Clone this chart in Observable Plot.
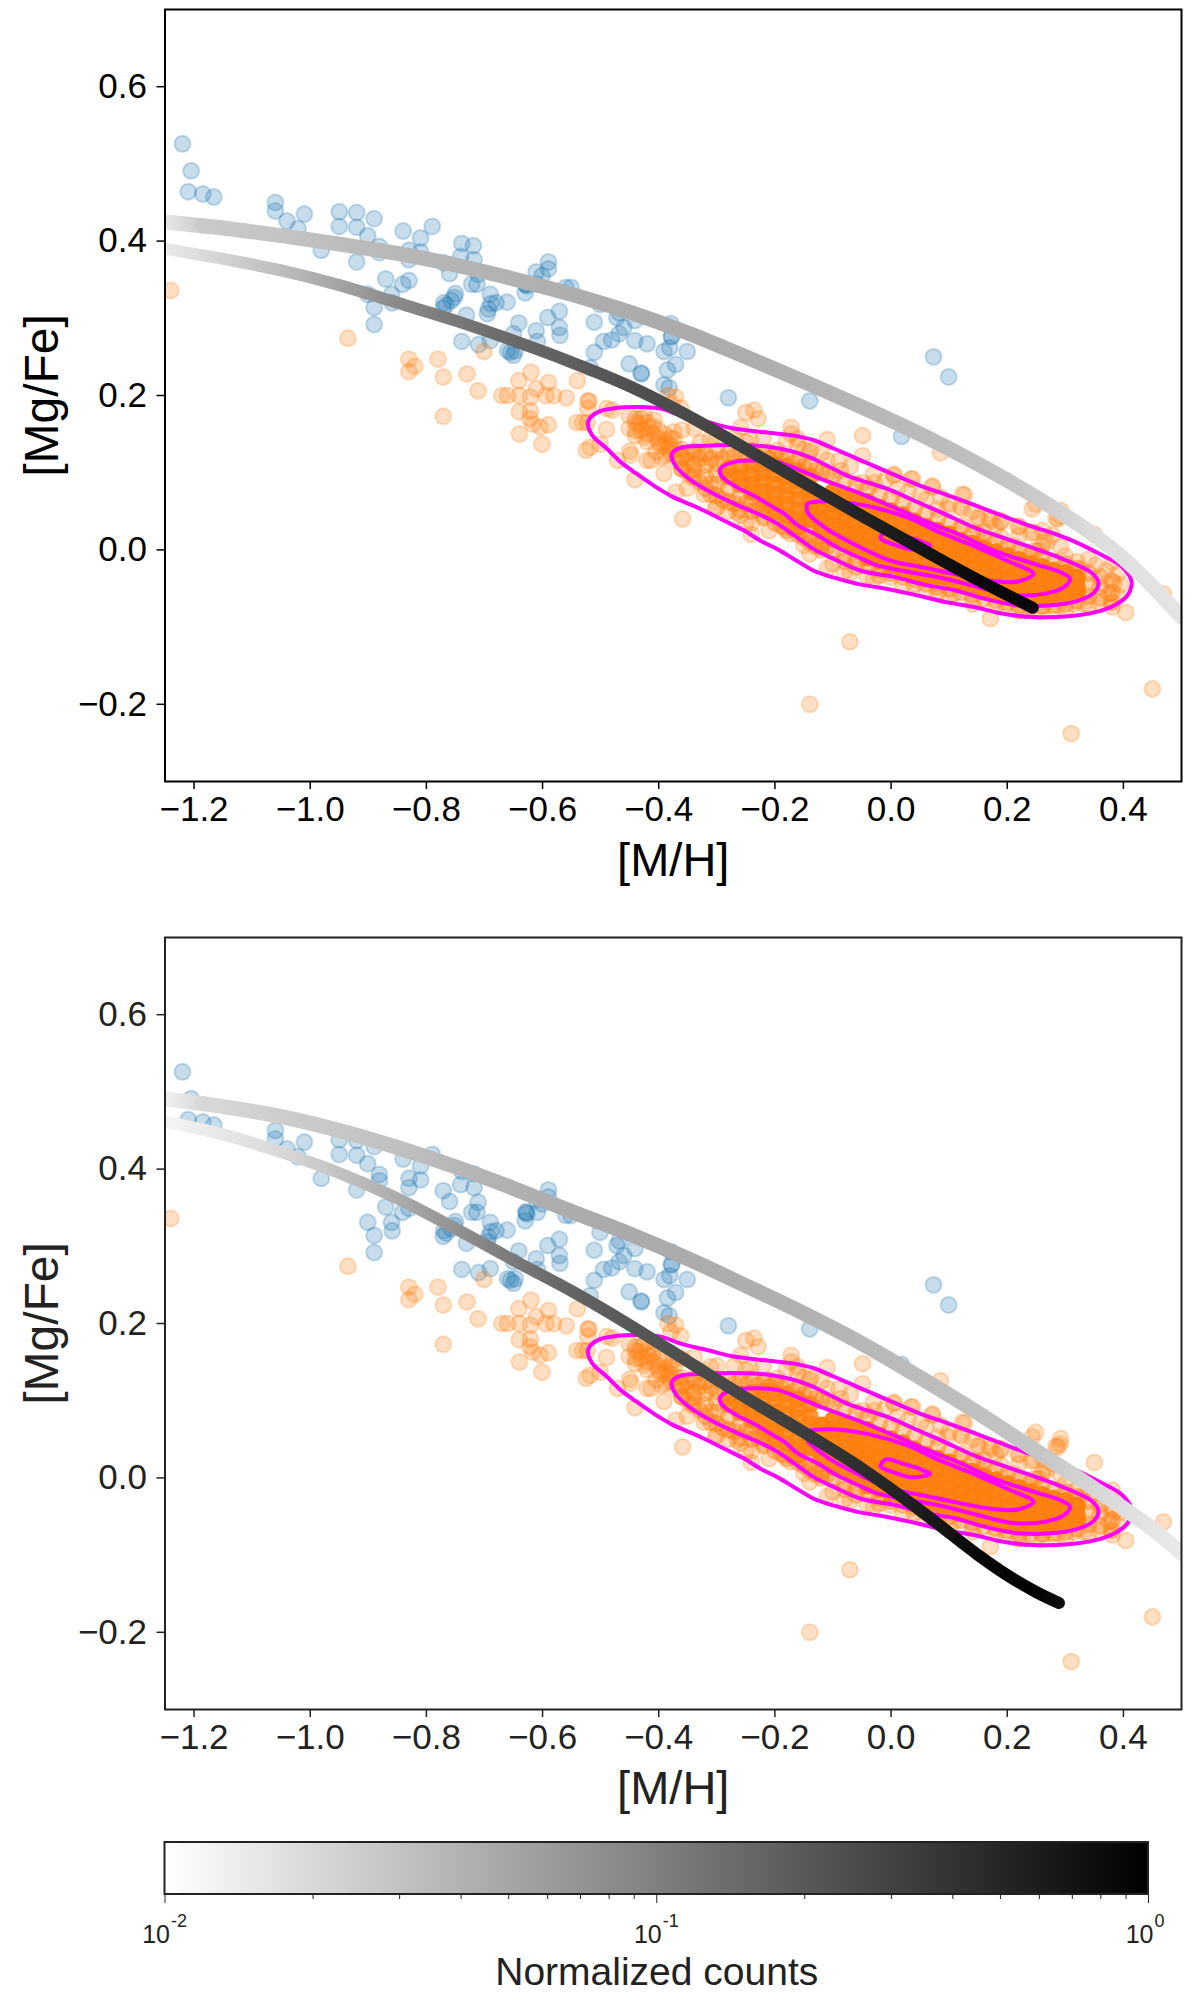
<!DOCTYPE html>
<html>
<head>
<meta charset="utf-8">
<script src="https://cdn.jsdelivr.net/npm/d3@7"></script>
<script src="https://cdn.jsdelivr.net/npm/@observablehq/plot@0.6"></script>
<style>
html,body{margin:0;padding:0;background:#fff;}
svg{display:block;}
</style>
</head>
<body>
<script>
const FONT = '"Liberation Sans", Arial, sans-serif';
const xTicks = [-1.2,-1.0,-0.8,-0.6,-0.4,-0.2,0.0,0.2,0.4];
const yTicks = [-0.2,0.0,0.2,0.4,0.6];
const cbMajor = [0.01,0.1,1];
const cbMinor = [0.02,0.03,0.04,0.05,0.06,0.07,0.08,0.09,0.2,0.3,0.4,0.5,0.6,0.7,0.8,0.9];

const blue = [
[-1.220,.526],[-1.205,.491],[-1.210,.464],[-1.185,.461],[-1.166,.457],
[-1.060,.450],[-1.060,.439],[-1.040,.426],[-1.010,.435],[-1.021,.416],[-.981,.388],
[-.950,.438],[-.950,.419],[-.920,.437],[-.920,.418],[-.890,.429],[-.901,.407],[-.881,.393],[-.881,.385],[-.920,.373],[-.870,.351],[-.901,.331],[-.890,.314],[-.890,.292],[-.860,.331],[-.859,.320],
[-.840,.413],[-.810,.404],[-.790,.419],[-.830,.388],[-.830,.376],[-.810,.386],[-.830,.349],[-.841,.344],[-.771,.372],[-.760,.358],
[-.739,.397],[-.719,.394],[-.741,.380],[-.718,.376],[-.711,.357],[-.722,.344],[-.713,.344],[-.750,.332],[-.752,.327],[-.757,.323],[-.770,.320],[-.766,.317],[-.771,.313],[-.731,.304],
[-.690,.331],[-.689,.319],[-.680,.320],[-.695,.306],[-.693,.312],[-.661,.321],[-.630,.333],[-.629,.344],[-.628,.344],[-.627,.342],[-.609,.344],[-.739,.270],[-.710,.266],[-.690,.271],[-.641,.294],[-.650,.280],[-.611,.284],[-.609,.270],[-.571,.309],[-.591,.301],[-.571,.288],[-.570,.278],[-.660,.258],[-.655,.256],[-.650,.252],[-.647,.258],
[-.590,.373],[-.590,.364],[-.611,.360],[-.601,.355],[-.560,.340],[-.551,.340],
[-.511,.295],[-.511,.256],[-.495,.270],[-.501,.318],[-.472,.301],[-.468,.307],[-.441,.297],[-.460,.288],[-.468,.280],[-.481,.272],[-.441,.271],[-.420,.267],[-.451,.241],[-.430,.229],[-.430,.228],[-.518,.236],[-.391,.257],[-.381,.262],[-.378,.277],[-.378,.276],[-.379,.293],[-.351,.257],[-.371,.240],[-.385,.233],[-.391,.214],[-.382,.210],[-.280,.197],[-.140,.193],[.073,.250],[.099,.224],[.018,.147]
];

const orangeSparse = [
[-1.240,.336],[-.935,.274],[-.830,.247],[-.820,.238],[-.830,.231],[-.780,.247],[-.771,.224],[-.730,.228],[-.701,.257],[-.620,.230],[-.641,.219],[-.590,.217],[-.540,.219],[-.711,.206],
[-.771,.173],[-.670,.200],[-.660,.200],[-.640,.200],[-.621,.198],[-.611,.209],[-.594,.200],[-.581,.200],[-.559,.197],[-.640,.179],[-.621,.180],[-.622,.170],[-.617,.163],[-.604,.159],[-.590,.162],[-.640,.150],[-.601,.137],[-.541,.165],[-.531,.165],[-.522,.193],[-.522,.183],[-.525,.129],[-.518,.133],
[-.520,.193],[-.489,.183],[-.480,.181],[-.523,.165],[-.490,.156],[-.501,.137],[-.471,.116],[-.450,.128],[-.448,.123],[-.420,.116],[-.413,.116],[-.391,.099],[-.441,.091],[-.370,.075],[-.351,.080],[-.322,.072],[-.302,.054],[-.359,.040],[-.260,.045],[-.250,.034],[-.241,.020],[-.220,.045],
[-.250,.178],[-.236,.181],[-.229,.170],[-.259,.159],[-.339,.157],[-.360,.155],[-.374,.153],[-.384,.200],[-.371,.198],[-.362,.184],[-.379,.189],[-.172,.159],[-.172,.150],[-.161,.144],[-.110,.143],[-.049,.148],[-.049,.122],[-.141,.127],[-.110,.116],[-.087,.103],
[-.451,.174],[-.425,.174],[-.408,.168],[-.451,.157],[-.434,.163],[-.417,.159],[-.440,.148],[-.425,.146],[-.402,.146],[-.388,.142],[-.374,.144],[-.397,.135],[-.382,.131],[-.388,.122],[-.405,.127],
[-.44,.17],[-.43,.155],[-.42,.165],[-.41,.15],[-.44,.155],[-.42,.14],[-.40,.155],[-.395,.12],[-.38,.125],[-.37,.13],[-.39,.135],[-.38,.145],[-.36,.12],[-.35,.115],[-.34,.105],[-.36,.105],[-.345,.095],
[.005,.098],[.034,.092],[.071,.083],[.011,.079],[-.029,.087],[-.049,.087],[.051,.072],[.086,.068],[.123,.072],[.120,.056],[.080,.053],[.149,.042],[.169,.041],[.189,.038],[.218,.031],[.241,.022],[.249,.059],[.287,.040],[.291,.044],[.284,.041],[.350,.020],[.381,-.016],[.469,-.057],[.212,.005],[.149,.022],[.123,.031],[.097,.053],[.252,-.001],[.327,-.025],[.269,.010],[.085,.126],
[.171,-.089],[.141,-.070],[.108,-.057],[.080,-.044],[.197,-.072],[.226,-.078],[.261,-.072],[.287,-.072],[.315,-.070],[.332,-.070],[.381,-.074],[.404,-.081],[.370,-.027],[.384,-.044],[.375,-.057],[.352,-.020],[.390,-.031],[-.041,-.035],[-.001,-.035],
[.005,.096],[.037,.092],[.071,.081],[.126,.071],[.123,.053],[.152,.040],[.172,.038],[.189,.036],[.221,.030],[.246,.023],[.261,.025],[.278,.019],[.292,.004],[.264,.012],[.189,.017],[.160,.023],[.246,-.001],[.292,.051],[.243,.053],
[-.150,.006],[-.184,.029],[-.173,.021],[-.121,.004],[-.110,-.024],[-.081,-.029],[-.265,.049],[-.311,.085],[-.328,.139],[-.311,.144],[-.242,.142],[-.213,.127],[-.196,.129],[-.161,.135],[-.138,.129],
[-.071,-.119],[-.140,-.200],[.310,-.238],[.450,-.180]
];

const orangeBand = [
[-.44,.165],[-.43,.17],[-.42,.15],[-.41,.16],[-.40,.14],[-.39,.15],[-.38,.135],[-.37,.115],[-.36,.13],[-.35,.10],[-.33,.125],
[-.30,.145],[-.27,.145],[-.25,.14],[-.22,.145],[-.18,.14],[-.15,.13],[-.12,.125],[-.09,.115],[-.07,.108],[-.03,.098],[-.01,.09],[.03,.075],[.06,.065],[.10,.06],[.14,.05],[.18,.03],[.22,.018],[.26,.005],[.30,-.008],[.32,-.015],[.34,-.012],
[-.30,.055],[-.28,.05],[-.24,.035],[-.21,.025],[-.14,-.005],[-.10,-.018],[-.07,-.03],[-.03,-.038],[.02,-.045],[.06,-.052],[.10,-.06],[.14,-.065],[.18,-.072],[.22,-.079],[.26,-.08],[.30,-.078],[.34,-.072],[.36,-.07],[.39,-.06],[.395,-.045]
];

const orangeMid = [
[-.36,.120],[-.36,.105],[-.34,.128],[-.34,.110],[-.34,.095],[-.32,.125],[-.32,.110],[-.32,.095],[-.32,.080],[-.30,.128],[-.30,.112],[-.30,.098],[-.30,.085],[-.30,.070],[-.28,.125],[-.28,.080],[-.28,.062],[-.26,.125],[-.26,.070],[-.26,.052],[-.24,.128],[-.24,.062],[-.24,.050],[-.22,.125],[-.22,.055],[-.22,.042],[-.20,.122],[-.20,.045],[-.20,.035],[-.18,.120],[-.18,.036],[-.18,.025],[-.16,.115],[-.16,.028],[-.16,.020],[-.14,.110],[-.14,.018],[-.14,.010],[-.12,.100],[-.12,.010],[-.12,.000],[-.10,.095],[-.10,-.002],[-.08,.090],[-.08,-.006],[-.08,-.015],[-.06,.085],[-.06,-.015],[-.06,-.022],[-.04,.080],[-.04,-.020],[-.02,.072],[-.02,-.025],[-.02,-.033],[0,.067],[0,-.030],[.02,.060],[.02,-.035],[.04,.053],[.04,-.038],[.04,-.045],[.06,.047],[.06,-.044],[.08,.040],[.08,-.048],[.08,-.055],[.10,.033],[.10,-.050],[.12,.028],[.12,-.055],[.14,.021],[.14,-.058],[.16,.014],[.16,-.063],[.18,.010],[.18,-.065],[.20,.004],[.20,-.068],[.22,-.002],[.22,-.072],[.24,-.006],[.24,-.073],[.26,-.010],[.26,-.073],[.28,-.015],[.28,-.072],[.30,-.018],[.30,-.070],[.32,-.024],[.32,-.066],[.34,-.030],[.34,-.045],[.34,-.060],[.36,-.035],[.36,-.048],[.36,-.062],[.38,-.040],[.38,-.055],[.38,-.068],
[-.35,.125],[-.33,.118],[-.31,.118],[-.33,.088],[-.31,.072],[-.29,.118],[-.29,.065],[-.27,.122],[-.27,.060],[-.25,.120],[-.23,.120],[-.21,.118],[-.19,.118],[-.17,.112],[-.15,.108],[-.13,.102],[-.11,.098],[-.25,.060],[-.23,.052],[-.21,.048],[-.19,.032],[-.17,.028],[-.15,.016],[-.13,.005],[-.11,.004]
];

const orangeDense = [
[-.28,.105],[-.28,.095],[-.26,.108],[-.26,.094],[-.26,.085],[-.24,.110],[-.24,.098],[-.24,.085],[-.24,.075],[-.22,.112],[-.22,.100],[-.22,.088],[-.22,.075],[-.22,.065],[-.20,.110],[-.20,.098],[-.20,.085],[-.20,.072],[-.20,.060],[-.20,.050],[-.18,.108],[-.18,.095],[-.18,.083],[-.18,.070],[-.18,.058],[-.18,.045],[-.16,.102],[-.16,.090],[-.16,.078],[-.16,.065],[-.16,.052],[-.16,.040],[-.16,.030],[-.14,.095],[-.14,.080],[-.14,.070],[-.14,.060]
];

const orangeCore = [
[-.14,.052],[-.14,.040],[-.12,.068],[-.12,.055],[-.12,.040],[-.12,.028],[-.10,.075],[-.10,.060],[-.10,.045],[-.10,.030],[-.10,.015],[-.08,.070],[-.08,.055],[-.08,.040],[-.08,.025],[-.08,.010],[-.06,.065],[-.06,.050],[-.06,.035],[-.06,.020],[-.06,.005],[-.04,.062],[-.04,.047],[-.04,.032],[-.04,.017],[-.04,.002],[-.04,-.010],[-.02,.055],[-.02,.040],[-.02,.025],[-.02,.010],[-.02,-.005],[-.02,-.014],[0,.050],[0,.035],[0,.020],[0,.005],[0,-.010],[0,-.020],[.02,.045],[.02,.030],[.02,.015],[.02,0],[.02,-.015],[.02,-.026],[.04,.037],[.04,.022],[.04,.007],[.04,-.008],[.04,-.023],[.04,-.030],[.06,.030],[.06,.015],[.06,0],[.06,-.015],[.06,-.030],[.06,-.037],[.08,.025],[.08,.010],[.08,-.005],[.08,-.020],[.08,-.034],[.10,.020],[.10,.005],[.10,-.010],[.10,-.025],[.10,-.038],[.12,.012],[.12,-.003],[.12,-.018],[.12,-.033],[.12,-.043],[.14,.008],[.14,-.007],[.14,-.022],[.14,-.037],[.14,-.048],[.16,.002],[.16,-.013],[.16,-.028],[.16,-.043],[.16,-.053],[.18,-.003],[.18,-.018],[.18,-.033],[.18,-.048],[.18,-.057],[.20,-.008],[.20,-.023],[.20,-.038],[.20,-.053],[.20,-.060],[.22,-.013],[.22,-.028],[.22,-.043],[.22,-.056],[.22,-.064],[.24,-.018],[.24,-.033],[.24,-.048],[.24,-.060],[.26,-.022],[.26,-.037],[.26,-.052],[.26,-.063],[.28,-.027],[.28,-.040],[.28,-.054],[.28,-.062],[.30,-.030],[.30,-.044],[.30,-.056],[.32,-.036],[.32,-.048],[.32,-.056]
];

const contourOuter = [
[-.522,.165],[-.517,.172],[-.500,.180],[-.471,.184],[-.437,.185],[-.397,.183],[-.362,.174],[-.313,.165],[-.276,.158],[-.213,.152],[-.167,.148],[-.133,.142],[-.098,.131],[-.052,.116],[-.012,.103],[.051,.083],[.097,.071],[.137,.060],[.189,.045],[.235,.032],[.281,.021],[.315,.011],[.361,-.006],[.396,-.021],[.413,-.038],[.414,-.046],[.407,-.059],[.384,-.072],[.350,-.081],[.304,-.086],[.246,-.087],[.195,-.083],[.143,-.074],[.097,-.068],[.034,-.057],[-.018,-.049],[-.052,-.045],[-.098,-.036],[-.133,-.027],[-.167,-.012],[-.196,.001],[-.225,.012],[-.253,.025],[-.288,.038],[-.328,.053],[-.374,.068],[-.408,.083],[-.437,.098],[-.466,.114],[-.489,.131],[-.514,.148]
];
const contourSecond = [
[-.378,.122],[-.374,.128],[-.359,.133],[-.322,.135],[-.276,.136],[-.230,.135],[-.184,.130],[-.144,.121],[-.110,.109],[-.075,.096],[-.052,.090],[-.006,.079],[.045,.062],[.091,.047],[.143,.029],[.200,.014],[.258,-.001],[.315,-.018],[.344,-.029],[.357,-.042],[.350,-.055],[.321,-.066],[.269,-.072],[.212,-.071],[.160,-.063],[.108,-.052],[.063,-.046],[.005,-.035],[-.052,-.027],[-.098,-.012],[-.133,.001],[-.167,.019],[-.196,.034],[-.230,.047],[-.270,.060],[-.316,.077],[-.351,.094],[-.371,.109]
];
const contourThird = [
[-.295,.103],[-.290,.108],[-.270,.114],[-.236,.116],[-.196,.114],[-.156,.103],[-.121,.092],[-.081,.081],[-.052,.073],[.005,.055],[.063,.036],[.120,.019],[.177,-.001],[.246,-.018],[.292,-.029],[.308,-.037],[.298,-.048],[.263,-.057],[.206,-.058],[.149,-.048],[.091,-.037],[.034,-.029],[-.024,-.020],[-.052,-.011],[-.092,.003],[-.127,.019],[-.161,.032],[-.184,.047],[-.207,.057],[-.236,.070],[-.265,.081],[-.290,.094]
];
const contourFourth = [
[-.144,.060],[-.133,.062],[-.104,.063],[-.041,.057],[.028,.042],[.086,.022],[.143,.005],[.200,-.014],[.245,-.031],[.218,-.041],[.172,-.040],[.114,-.032],[.057,-.023],[-.001,-.014],[-.052,.003],[-.081,.014],[-.110,.027],[-.133,.040],[-.144,.049]
];
const contourFifth = [
[-.009,.024],[-.018,.015],[.005,.007],[.034,.001],[.067,.005],[.048,.012],[.022,.018]
];

// [M/H], [Mg/Fe], normalized counts
const topUpperCurve = [
[-1.25,.425,.0151],[-1.184,.4195,.0265],[-1.15,.417,.027],[-1.05,.407,.029],[-.95,.396,.033],[-.85,.384,.036],[-.75,.369,.039],[-.65,.351,.0405],[-.55,.331,.043],[-.45,.308,.0445],[-.35,.281,.0457],[-.25,.250,.044],[-.15,.218,.041],[-.05,.185,.037],[.05,.150,.034],[.15,.111,.032],[.25,.068,.026],[.35,.019,.0185],[.40,-.011,.0175],[.45,-.047,.0165],[.50,-.087,.016]
];
const topLowerCurve = [
[-1.25,.390,.0146],[-1.15,.377,.0225],[-1.05,.362,.033],[-.95,.343,.053],[-.85,.320,.083],[-.75,.297,.112],[-.65,.271,.15],[-.55,.243,.18],[-.45,.212,.236],[-.35,.174,.265],[-.25,.131,.335],[-.15,.087,.41],[-.05,.044,.54],[.05,.002,.67],[.15,-.039,.86],[.244,-.075,.85]
];
const bottomUpperCurve = [
[-1.25,.491,.0131],[-1.186,.485,.0201],[-1.15,.481,.021],[-1.05,.468,.0245],[-.95,.450,.0275],[-.85,.428,.031],[-.75,.403,.037],[-.65,.375,.042],[-.55,.345,.0445],[-.45,.316,.0464],[-.35,.284,.0445],[-.25,.249,.0435],[-.15,.213,.041],[-.05,.174,.037],[.05,.130,.0335],[.15,.084,.031],[.25,.035,.0285],[.35,-.014,.021],[.45,-.066,.016],[.50,-.098,.0146]
];
const bottomLowerCurve = [
[-1.25,.461,.0119],[-1.15,.445,.0155],[-1.05,.422,.020],[-.95,.395,.030],[-.85,.362,.045],[-.75,.323,.072],[-.65,.282,.113],[-.55,.242,.165],[-.45,.198,.205],[-.35,.151,.25],[-.25,.104,.29],[-.15,.059,.34],[-.05,.012,.44],[.05,-.042,.60],[.15,-.100,.85],[.20,-.126,.95],[.25,-.148,.95],[.289,-.162,.75]
];

const gray = d3.scaleLog().domain([0.01,1]).range(["white","black"]);
const px = d => d[0], py = d => d[1];

function gradient(id, rows) {
  return (index, {x}) => {
    const defs = d3.create("svg:defs");
    const x0 = x(rows[0][0]), x1 = x(rows[rows.length-1][0]);
    const g = defs.append("linearGradient").attr("id", id)
      .attr("gradientUnits","userSpaceOnUse").attr("x1",x0).attr("x2",x1).attr("y1",0).attr("y2",0);
    rows.forEach(r => g.append("stop").attr("offset",(x(r[0])-x0)/(x1-x0)).attr("stop-color",gray(r[2])));
    return defs.node();
  };
}
function curve(id, rows, width) {
  return [gradient(id, rows),
    Plot.line(rows,{x:px,y:py,stroke:`url(#${id})`,strokeWidth:width,curve:"catmull-rom",strokeLinecap:"round",clip:true})];
}
const dotStyle = (color,op) => ({x:px,y:py,r:8,fill:color,fillOpacity:op,stroke:color,strokeOpacity:op,strokeWidth:2,clip:true});

function panel(id, upper, lower, ink, height) {
  const bottom = height - 781;
  const tail = upper.filter(d => d[0] <= -1.18), main = upper.filter(d => d[0] >= -1.19);
  const contours = [contourOuter,contourSecond,contourThird,contourFourth,contourFifth];
  return Plot.plot({
    width:1200, height,
    marginLeft:164.5, marginRight:19, marginTop:9, marginBottom:bottom,
    style:{fontFamily:FONT,background:"#fff",color:ink},
    x:{domain:[-1.25,0.5],axis:null},
    y:{domain:[-0.3,0.7],axis:null},
    marks:[
      Plot.dot(blue,dotStyle("#1f77b4",0.25)),
      Plot.dot(orangeSparse,dotStyle("#ff7f0e",0.25)),
      Plot.dot(orangeBand,dotStyle("#ff7f0e",0.25)),
      Plot.dot(orangeMid,dotStyle("#ff7f0e",0.35)),
      Plot.dot(orangeDense,{x:px,y:py,r:9,fill:"#ff7f0e",fillOpacity:0.8,clip:true}),
      Plot.dot(orangeCore,{x:px,y:py,r:9,fill:"#ff7f0e",fillOpacity:0.97,clip:true}),
      ...contours.map(c => Plot.line(c,{x:px,y:py,stroke:"#ff00ff",strokeWidth:4,curve:"catmull-rom-closed",clip:true})),
      ...curve(id+"t",tail,15),
      ...curve(id+"u",main,15),
      ...curve(id+"l",lower,12),
      Plot.frame({stroke:ink,strokeWidth:2}),
      Plot.axisX({ticks:xTicks,tickSize:8,tickPadding:7,fontSize:35,label:null,strokeWidth:1.5,stroke:ink,tickFormat:d3.format(".1f")}),
      Plot.axisY({ticks:yTicks,tickSize:8,tickPadding:10,fontSize:35,label:null,strokeWidth:1.5,stroke:ink,tickFormat:d3.format(".1f")}),
      Plot.text(["[M/H]"],{frameAnchor:"bottom",text:d=>d,fontSize:47,dy:94,fill:ink}),
      Plot.text(["[Mg/Fe]"],{frameAnchor:"left",textAnchor:"middle",text:d=>d,fontSize:48,rotate:-90,dx:-122,fill:ink})
    ]
  });
}

function colorbar() {
  const ink = "#222";
  return Plot.plot({
    width:1200, height:182,
    marginLeft:164.5, marginRight:52, marginTop:14, marginBottom:116,
    style:{fontFamily:FONT,background:"#fff",color:ink},
    x:{type:"log",domain:[0.01,1],axis:null},
    y:{domain:[0,1],axis:null},
    marks:[
      (index,{x}) => {
        const defs = d3.create("svg:defs");
        const g = defs.append("linearGradient").attr("id","cbar").attr("gradientUnits","userSpaceOnUse")
          .attr("x1",x(0.01)).attr("x2",x(1)).attr("y1",0).attr("y2",0);
        g.append("stop").attr("offset",0).attr("stop-color","white");
        g.append("stop").attr("offset",1).attr("stop-color","black");
        return defs.node();
      },
      Plot.rect([0],{x1:()=>0.01,x2:()=>1,y1:()=>0,y2:()=>1,fill:"url(#cbar)",stroke:ink,strokeWidth:2}),
      Plot.axisX({ticks:cbMajor,tickSize:9,tickFormat:()=>"",label:null,strokeWidth:1,stroke:ink}),
      Plot.axisX({ticks:cbMinor,tickSize:5,tickFormat:()=>"",label:null,strokeWidth:1,stroke:ink}),
      Plot.text(cbMajor,{x:d=>d,text:()=>"10",frameAnchor:"bottom",fontSize:25,textAnchor:"end",dx:5,dy:48,fill:ink}),
      Plot.text(cbMajor,{x:d=>d,text:d=>String(Math.round(Math.log10(d))),frameAnchor:"bottom",fontSize:18,textAnchor:"start",dx:6,dy:32,fill:ink}),
      Plot.text(["Normalized counts"],{frameAnchor:"bottom",text:d=>d,fontSize:39,dy:90,fill:ink})
    ]
  });
}

document.body.append(
  panel("a",topUpperCurve,topLowerCurve,"#000",928),
  panel("b",bottomUpperCurve,bottomLowerCurve,"#222",900),
  colorbar()
);
</script>
</body>
</html>
